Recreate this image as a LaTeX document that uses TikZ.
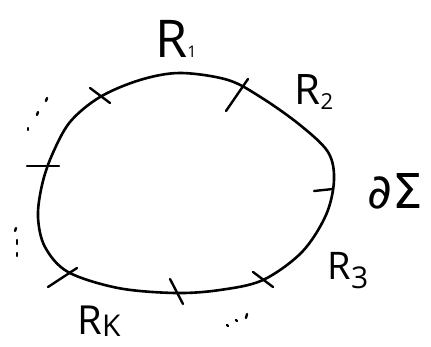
\documentclass[tikz,border=0pt]{standalone}
\usepackage{fontspec}
\setsansfont{Open Sans}
\newfontfamily\symfont{DejaVu Sans}
\newcommand{\lblsub}[3]{\raisebox{-#3}{\fontsize{#1}{#1}\selectfont #2}}
\newcommand{\lblR}[1]{{\fontsize{#1}{#1}\selectfont R}}
\begin{document}
\begin{tikzpicture}[x=1pt,y=-1pt,
  curve/.style={line width=2.6pt, line cap=round, line join=round},
  tickmark/.style={line width=2.4pt, line cap=round},
  dotmark/.style={line width=2.4pt, line cap=round},
  lbl/.style={font=\sffamily, inner sep=0pt}]
\useasboundingbox (0,0) rectangle (431,347);
% boundary curve
\draw[curve] plot[smooth cycle, tension=0.55] coordinates {
  (180,73) (228,80) (262,98) (300,125) (328,152) (334,180)
  (326,215) (302,252) (263,280) (220,290) (175,293) (118,288)
  (68,272) (45,247) (38,217) (42,185) (52,155) (70,122) (100,97) (140,80)};
% tick marks
\draw[tickmark] (90,88) -- (110,103);
\draw[tickmark] (248,79) -- (226,111);
\draw[tickmark] (27,166) -- (59,166);
\draw[tickmark] (314,191) -- (333,189);
\draw[tickmark] (253,272) -- (273,287);
\draw[tickmark] (170,279) -- (183,304);
\draw[tickmark] (48,287) -- (77,268);
% dots
\draw[dotmark] (28,128) -- (28,130);
\draw[dotmark] (38,112) -- (37,115);
\draw[dotmark] (47,98) -- (46,101);
\draw[dotmark] (16,228) -- (15,231);
\draw[dotmark] (17,240) -- (17,244);
\draw[dotmark] (17,253) -- (17,256);
\draw[dotmark] (227,325) -- (228,326);
\draw[dotmark] (236,320) -- (237,321);
\draw[dotmark] (247,314) -- (246,318);
% labels
\node[lbl] (r1) at (176,39) {\lblR{52}\lblsub{16}{1}{0pt}};
\node[lbl] (r2) at (314,92) {\lblR{42}\lblsub{22}{2}{5pt}};
\node[lbl] (ds) at (395,191) {\symfont\fontsize{48}{52}\selectfont ∂Σ};
\node[lbl] (r3) at (348,271) {\lblR{38}\lblsub{30}{3}{9pt}};
\node[lbl] (rk) at (99,321) {\lblR{40}\lblsub{30}{K}{2pt}};
\end{tikzpicture}
\end{document}
